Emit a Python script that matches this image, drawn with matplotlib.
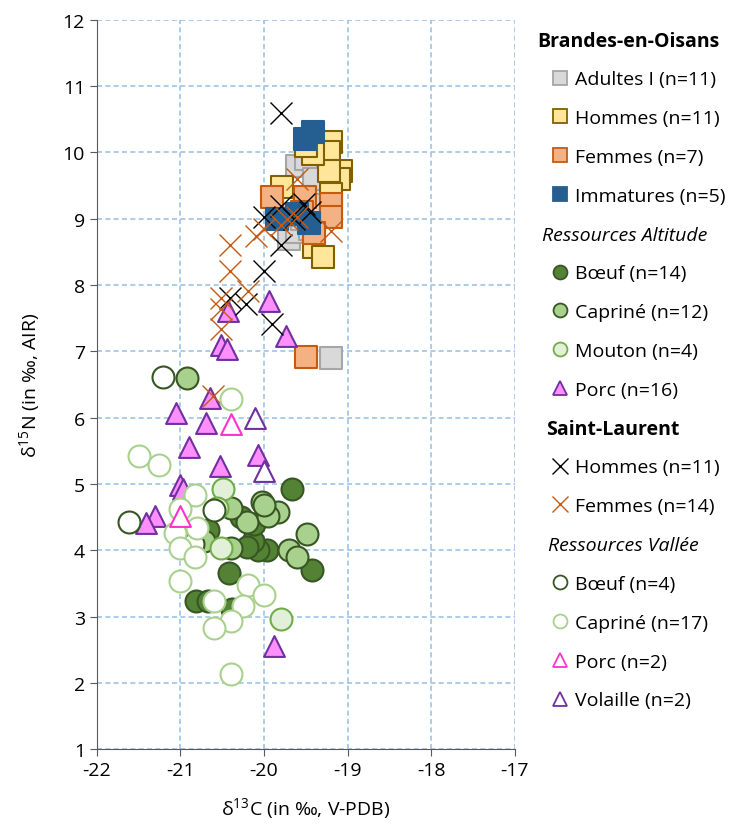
import matplotlib
matplotlib.use('Agg')
from matplotlib import pyplot as plt
from matplotlib.lines import Line2D

plt.rcParams['font.family'] = ['Open Sans', 'DejaVu Sans']
plt.rcParams['mathtext.fontset'] = 'custom'
plt.rcParams['mathtext.rm'] = 'Open Sans'
plt.rcParams['axes.unicode_minus'] = False

# Brandes-en-Oisans (humans)
adultes_x = [-19.2, -19.7, -19.6, -19.6, -19.5, -19.35, -19.3, -19.55, -19.45, -19.7, -19.4]
adultes_y = [6.9, 8.7, 8.8, 9.8, 9.9, 9.5, 9.2, 9.0, 8.85, 9.05, 9.6]
hommes_x = [-19.78, -19.2, -19.22, -19.08, -19.1, -19.22, -19.42, -19.5, -19.4, -19.3, -19.2]
hommes_y = [9.47, 10.15, 10.0, 9.72, 9.6, 9.72, 9.97, 10.1, 8.57, 8.42, 9.37]
femmes_x = [-19.91, -19.51, -19.2, -19.2, -19.4, -19.5, -19.55]
femmes_y = [9.32, 9.32, 9.22, 9.02, 8.79, 6.91, 9.1]
immat_x = [-19.42, -19.51, -19.84, -19.6, -19.46]
immat_y = [10.3, 10.2, 8.99, 9.07, 8.94]

# Ressources Altitude
boeuf_a_x = [-19.67, -19.97, -20.07, -20.13, -19.43, -20.42, -20.27, -20.12, -20.67, -20.81, -20.67, -20.38, -19.98, -20.2]
boeuf_a_y = [4.93, 4.01, 4.0, 4.14, 3.70, 3.66, 4.50, 4.40, 4.30, 3.24, 3.24, 3.12, 4.55, 4.05]
capr_a_x = [-20.92, -20.03, -19.83, -20.2, -20.39, -19.48, -19.7, -19.6, -20.39, -20.72, -19.95, -20.0]
capr_a_y = [6.6, 4.72, 4.58, 4.42, 4.64, 4.24, 4.01, 3.9, 4.04, 4.14, 4.52, 4.68]
mouton_a_x = [-20.49, -20.56, -20.51, -19.8]
mouton_a_y = [4.92, 4.64, 4.04, 2.97]
porc_a_x = [-19.94, -19.74, -20.43, -20.51, -20.44, -20.65, -21.05, -20.7, -20.9, -20.53, -20.07, -21.0, -20.97, -21.31, -21.41, -19.88]
porc_a_y = [7.76, 7.23, 7.61, 7.1, 7.03, 6.3, 6.07, 5.92, 5.55, 5.27, 5.44, 4.99, 4.92, 4.51, 4.41, 2.56]

# Saint-Laurent (humans)
sl_h_x = [-19.8, -19.8, -19.52, -20.0, -19.8, -20.0, -20.41, -20.21, -19.91, -19.64, -19.45]
sl_h_y = [10.6, 9.19, 9.22, 9.02, 8.61, 8.21, 7.81, 7.71, 7.41, 8.99, 9.1]
sl_f_x = [-19.6, -20.41, -20.41, -20.0, -20.1, -20.19, -20.51, -20.51, -20.51, -19.2, -19.72, -19.6, -19.8, -20.61]
sl_f_y = [9.6, 8.61, 8.21, 8.84, 8.74, 7.91, 7.81, 7.63, 7.33, 8.81, 8.99, 9.02, 8.9, 6.32]

# Ressources Vallée
boeuf_v_x = [-21.21, -21.61, -20.85, -20.6]
boeuf_v_y = [6.61, 4.42, 4.1, 4.6]
capr_v_x = [-21.5, -21.26, -20.4, -20.83, -21.0, -21.07, -20.8, -21.0, -20.83, -21.0, -20.6, -20.19, -20.0, -20.25, -20.4, -20.6, -20.4]
capr_v_y = [5.42, 5.29, 6.28, 4.84, 4.62, 4.26, 4.34, 4.04, 3.90, 3.53, 3.23, 3.48, 3.33, 3.16, 2.93, 2.83, 2.13]
porc_v_x = [-20.4, -21.0]
porc_v_y = [5.9, 4.51]
vol_x = [-20.11, -20.0]
vol_y = [6.0, 5.19]

fig = plt.figure(figsize=(7.45, 8.28), dpi=100)
ax = fig.add_axes([0.130, 0.094, 0.561, 0.881])

S = 250
# series: (x, y, marker, face, edge, label)
series = [
    (None, None, None, None, None, 'Brandes-en-Oisans'),
    (adultes_x, adultes_y, 's', '#d9d9d9', '#a6a6a6', 'Adultes I (n=11)'),
    (hommes_x, hommes_y, 's', '#ffe699', '#806000', 'Hommes (n=11)'),
    (femmes_x, femmes_y, 's', '#f4b183', '#c55a11', 'Femmes (n=7)'),
    (immat_x, immat_y, 's', '#255e91', '#255e91', 'Immatures (n=5)'),
    (None, None, None, None, None, 'Ressources Altitude'),
    (boeuf_a_x, boeuf_a_y, 'o', '#548235', '#375623', 'Bœuf (n=14)'),
    (capr_a_x, capr_a_y, 'o', '#a9d18e', '#375623', 'Capriné (n=12)'),
    (mouton_a_x, mouton_a_y, 'o', '#e2f0d9', '#70ad47', 'Mouton (n=4)'),
    (porc_a_x, porc_a_y, '^', '#ff8fff', '#7030a0', 'Porc (n=16)'),
    (None, None, None, None, None, 'Saint-Laurent'),
    (sl_h_x, sl_h_y, 'x', 'black', 'black', 'Hommes (n=11)'),
    (sl_f_x, sl_f_y, 'x', '#c55a11', '#c55a11', 'Femmes (n=14)'),
    (None, None, None, None, None, 'Ressources Vallée'),
    (boeuf_v_x, boeuf_v_y, 'o', 'white', '#375623', 'Bœuf (n=4)'),
    (capr_v_x, capr_v_y, 'o', 'white', '#a9d18e', 'Capriné (n=17)'),
    (porc_v_x, porc_v_y, '^', 'white', '#ff33cc', 'Porc (n=2)'),
    (vol_x, vol_y, '^', 'white', '#7030a0', 'Volaille (n=2)'),
]

handles = []
labels = []
z = 3
for xs, ys, m, fc, ec, lab in series:
    if xs is None:
        handles.append(Line2D([], [], linestyle='none', marker=None))
        labels.append(' ')
        continue
    if m == 'x':
        ax.scatter(xs, ys, s=S, marker='x', c=fc, linewidths=1.0, zorder=z)
        handles.append(Line2D([], [], linestyle='none', marker='x', color=fc,
                              markersize=11, markeredgewidth=1.0))
    else:
        ss = S * 0.9 if m == '^' else S
        ax.scatter(xs, ys, s=ss, marker=m, facecolors=fc, edgecolors=ec,
                   linewidths=1.5, zorder=z)
        handles.append(Line2D([], [], linestyle='none', marker=m,
                              markerfacecolor=fc, markeredgecolor=ec,
                              markeredgewidth=1.3, markersize=10))
    labels.append(lab)
    z += 1

ax.set_xlim(-22, -17)
ax.set_ylim(1, 12)
ax.set_xticks(range(-22, -16))
ax.set_yticks(range(1, 13))
ax.grid(True, color='#9dc3e6', linestyle=(0, (3, 2)), linewidth=1.2)
ax.set_axisbelow(True)
for sp in ['top', 'right']:
    ax.spines[sp].set_visible(False)
for sp in ['left', 'bottom']:
    ax.spines[sp].set_color('#595959')
ax.tick_params(labelsize=14, length=5, color='#595959')
ax.set_xlabel('δ$^{13}$C (in ‰, V-PDB)', fontsize=14, labelpad=12)
ax.set_ylabel('δ$^{15}$N (in ‰, AIR)', fontsize=14, labelpad=14)

leg = fig.legend(handles, labels, loc='upper left', bbox_to_anchor=(0.730, 0.970),
                 frameon=False, fontsize=14, handlelength=0.9, handletextpad=0.3,
                 labelspacing=1.07, borderaxespad=0)

fig.canvas.draw()
headers = {0: ('Brandes-en-Oisans', 'bold', 'normal', 38),
           5: ('Ressources Altitude', 'normal', 'italic', 33),
           10: ('Saint-Laurent', 'bold', 'normal', 29),
           13: ('Ressources Vallée', 'normal', 'italic', 27)}
texts = leg.get_texts()
ref = texts[1].get_window_extent()
for i, (txt, w, st, off) in headers.items():
    bb = texts[i].get_window_extent()
    fig.text(ref.x0 - off, (bb.y0 + bb.y1) / 2, txt, transform=None,
             fontsize=14, fontweight=w, fontstyle=st, va='center', ha='left')

fig.savefig('out.png', dpi=100)
